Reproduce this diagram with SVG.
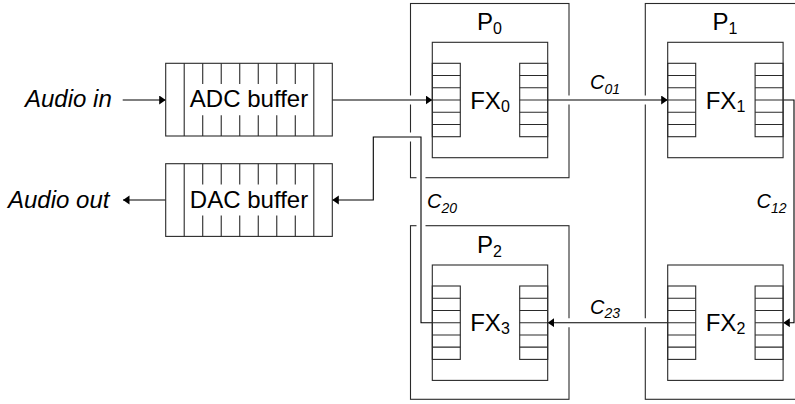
<svg xmlns="http://www.w3.org/2000/svg" xmlns:xlink="http://www.w3.org/1999/xlink" width="795" height="404" viewBox="0 0 795 404">
<style>
  .box { fill: none; stroke: #2a2a2a; stroke-width: 1.1; }
  .ln { fill: none; stroke: #2a2a2a; stroke-width: 1.1; }
  .halo { fill: none; stroke: #ffffff; stroke-width: 9; stroke-linecap: butt; }
  .wire { fill: none; stroke: #000000; stroke-width: 1.1; }
  .lbl { font-family: "Liberation Sans", Arial, sans-serif; font-size: 24px; fill: #000; }
  .sub { font-size: 16px; }
  .it { font-family: "Liberation Sans", Arial, sans-serif; font-style: italic; fill: #000; }
  .clbl { font-family: "Liberation Sans", Arial, sans-serif; font-style: italic; font-size: 20px; fill: #000; }
  .csub { font-size: 14px; }
</style>
<defs>
  <marker id="arr" markerUnits="userSpaceOnUse" markerWidth="8" markerHeight="10" refX="6.5" refY="4.5" orient="auto">
    <path d="M0,0 L6.5,4.5 L0,9 z" fill="#000"/>
  </marker>
  <g id="fxunit">
    <rect class="box" x="0" y="0" width="115.4" height="115.4"/>
    <rect class="box" x="0" y="21" width="28" height="73.4"/>
    <rect class="box" x="87.4" y="21" width="28" height="73.4"/>
    <path class="ln" d="M0,33.23H28M0,45.47H28M0,57.7H28M0,69.93H28M0,82.17H28M87.4,33.23H115.4M87.4,45.47H115.4M87.4,57.7H115.4M87.4,69.93H115.4M87.4,82.17H115.4"/>
  </g>
  <g id="bufunit">
    <rect class="box" x="0" y="0" width="166.6" height="72.7"/>
    <path class="ln" d="M18.51,0V72.7M148.09,0V72.7M37.02,0V20.8M55.53,0V20.8M74.04,0V20.8M92.56,0V20.8M111.07,0V20.8M129.58,0V20.8M37.02,51.9V72.7M55.53,51.9V72.7M74.04,51.9V72.7M92.56,51.9V72.7M111.07,51.9V72.7M129.58,51.9V72.7"/>
  </g>
</defs>
<rect x="0" y="0" width="795" height="404" fill="#ffffff"/>

<g id="P0">
  <rect class="box" x="410.5" y="3.5" width="158.5" height="174.2"/>
  <text class="lbl" x="489.5" y="30" text-anchor="middle">P<tspan class="sub" dy="4">0</tspan></text>
</g>
<g id="P1">
  <rect class="box" x="645.3" y="3.5" width="161" height="395.8"/>
  <text class="lbl" x="725" y="30" text-anchor="middle">P<tspan class="sub" dy="4">1</tspan></text>
</g>
<g id="P2">
  <rect class="box" x="410.5" y="225.7" width="158.5" height="173.6"/>
  <text class="lbl" x="489.5" y="252.5" text-anchor="middle">P<tspan class="sub" dy="4">2</tspan></text>
</g>

<g id="connectors">
  <path class="halo" d="M332.3,100H432.3"/>
  <path class="halo" d="M547.7,100H667.7"/>
  <path class="halo" d="M667.7,322.7H547.7"/>
  <path class="halo" d="M432.3,322.7H421V137H373.3V200H334"/>
  <path class="wire" d="M122.7,100H165.7" marker-end="url(#arr)"/>
  <path class="wire" d="M165.7,200H123" marker-end="url(#arr)"/>
  <path class="wire" d="M332.3,100H432.3" marker-end="url(#arr)"/>
  <path class="wire" d="M547.7,100H667.7" marker-end="url(#arr)"/>
  <path class="wire" d="M783.3,100H794V322.7H783.3" marker-end="url(#arr)"/>
  <path class="wire" d="M667.7,322.7H547.7" marker-end="url(#arr)"/>
  <path class="wire" d="M432.3,322.7H421V137H373.3V200H332.3" marker-end="url(#arr)"/>
  <text class="clbl" x="590" y="88.5">C<tspan class="csub" dy="5">01</tspan></text>
  <text class="clbl" x="756.5" y="208">C<tspan class="csub" dy="5">12</tspan></text>
  <text class="clbl" x="590" y="313.5">C<tspan class="csub" dy="4">23</tspan></text>
  <text class="clbl" x="427" y="208">C<tspan class="csub" dy="5">20</tspan></text>
</g>

<g id="FX0">
  <use xlink:href="#fxunit" href="#fxunit" transform="translate(432.3,42.3)"/>
  <text class="lbl" x="490" y="108.5" text-anchor="middle">FX<tspan class="sub" dy="3">0</tspan></text>
</g>
<g id="FX1">
  <use xlink:href="#fxunit" href="#fxunit" transform="translate(667.7,42.3)"/>
  <text class="lbl" x="725.5" y="108.5" text-anchor="middle">FX<tspan class="sub" dy="3">1</tspan></text>
</g>
<g id="FX2">
  <use xlink:href="#fxunit" href="#fxunit" transform="translate(667.7,265)"/>
  <text class="lbl" x="725.5" y="331" text-anchor="middle">FX<tspan class="sub" dy="3">2</tspan></text>
</g>
<g id="FX3">
  <use xlink:href="#fxunit" href="#fxunit" transform="translate(432.3,265)"/>
  <text class="lbl" x="490" y="331" text-anchor="middle">FX<tspan class="sub" dy="3">3</tspan></text>
</g>

<g id="ADC">
  <use xlink:href="#bufunit" href="#bufunit" transform="translate(165.7,63.3)"/>
  <text class="lbl" x="249" y="107" text-anchor="middle">ADC buffer</text>
</g>
<g id="DAC">
  <use xlink:href="#bufunit" href="#bufunit" transform="translate(165.7,163.7)"/>
  <text class="lbl" x="249" y="208" text-anchor="middle">DAC buffer</text>
</g>

<g id="audio-in">
  <text class="it" x="25" y="107" font-size="24">Audio in</text>
</g>
<g id="audio-out">
  <text class="it" x="8" y="208" font-size="24">Audio out</text>
</g>
</svg>
